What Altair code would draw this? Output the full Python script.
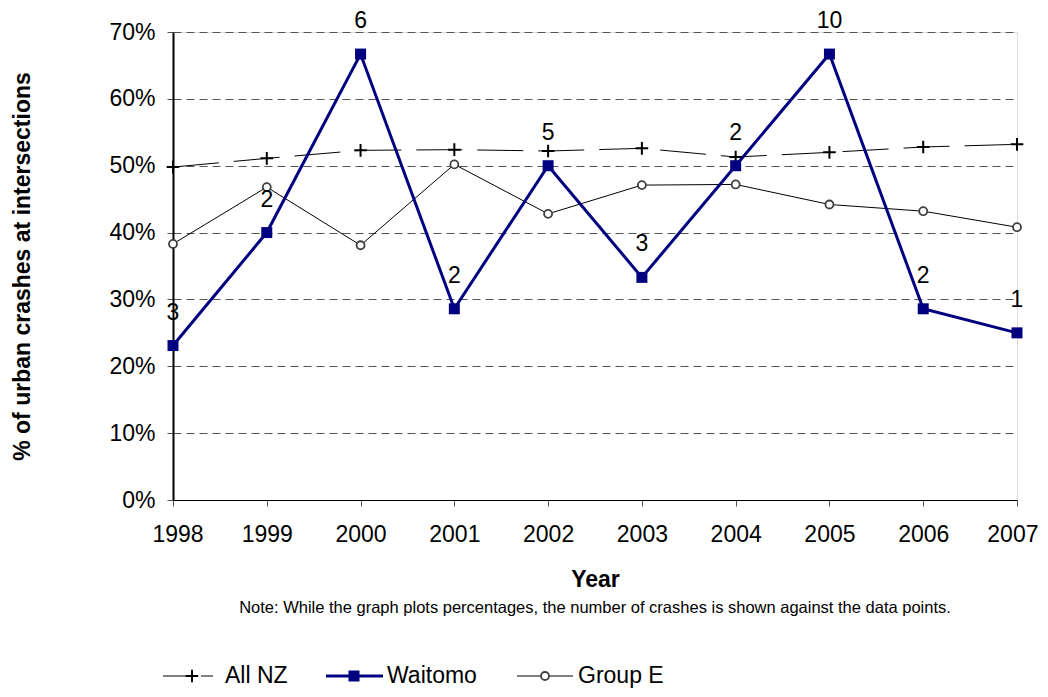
import altair as alt
import pandas as pd

years = [1998, 1999, 2000, 2001, 2002, 2003, 2004, 2005, 2006, 2007]
waitomo_pct = [23.1, 40.0, 66.7, 28.6, 50.0, 33.3, 50.0, 66.7, 28.6, 25.0]
waitomo_n = [3, 2, 6, 2, 5, 3, 2, 10, 2, 1]
all_nz_pct = [49.8, 51.1, 52.3, 52.4, 52.2, 52.6, 51.3, 52.0, 52.8, 53.2]
group_e_pct = [38.3, 46.8, 38.1, 50.2, 42.8, 47.1, 47.2, 44.2, 43.2, 40.8]
series_names = ["All NZ", "Waitomo", "Group E"]
y_ticks = [0, 10, 20, 30, 40, 50, 60, 70]
note_text = "Note: While the graph plots percentages, the number of crashes is shown against the data points."

FONT = "Liberation Sans"
FS = 23
NAVY = "#000080"
PLUS = "M-1,0L1,0M0,-1L0,1"

df_w = pd.DataFrame({"year": years, "pct": [v / 100 for v in waitomo_pct], "n": waitomo_n})
df_a = pd.DataFrame({"year": years, "pct": [v / 100 for v in all_nz_pct]})
df_g = pd.DataFrame({"year": years, "pct": [v / 100 for v in group_e_pct]})

x_enc = alt.X(
    "year:Q",
    scale=alt.Scale(domain=[years[0], years[-1]], nice=False, zero=False),
    axis=alt.Axis(
        values=years, format="d", title="Year", grid=False, labelFlush=True, labelFlushOffset=21,
        labelOverlap=False,
        labelFontSize=FS, labelFont=FONT, labelColor="black", labelPadding=17,
        titleFontSize=FS, titleFont=FONT, titleFontWeight="bold", titleColor="black",
        titlePadding=22, tickSize=6, tickColor="#555", domainColor="black", domainWidth=1,
    ),
)
y_enc = alt.Y(
    "pct:Q",
    scale=alt.Scale(domain=[0, 0.7], nice=False),
    axis=alt.Axis(
        values=[v / 100 for v in y_ticks], format=".0%", labelFlush=False,
        title="% of urban crashes at intersections",
        labelFontSize=FS, labelFont=FONT, labelColor="black", labelPadding=12,
        titleFontSize=FS, titleFont=FONT, titleFontWeight="bold", titleColor="black",
        titlePadding=74, tickSize=6, tickColor="#555", domainColor="black", domainWidth=2,
        grid=True, gridDash=[8, 5], gridColor="#555", gridWidth=1,
    ),
)

all_line = alt.Chart(df_a).mark_line(color="black", strokeWidth=1, strokeDash=[46, 15]).encode(x=x_enc, y=y_enc)
all_pts = alt.Chart(df_a).mark_point(shape=PLUS, size=160, filled=False, stroke="black", strokeWidth=2, opacity=1).encode(x="year:Q", y="pct:Q")

grp_line = alt.Chart(df_g).mark_line(color="black", strokeWidth=1).encode(x="year:Q", y="pct:Q")
grp_pts = alt.Chart(df_g).mark_point(shape="circle", size=64, filled=True, fill="white", stroke="#404040", strokeWidth=1.8, opacity=1).encode(x="year:Q", y="pct:Q")

w_line = alt.Chart(df_w).mark_line(color=NAVY, strokeWidth=3).encode(x="year:Q", y="pct:Q")
w_pts = alt.Chart(df_w).mark_point(shape="square", size=121, filled=True, color=NAVY, opacity=1).encode(x="year:Q", y="pct:Q")
w_lbl = alt.Chart(df_w).mark_text(fontSize=FS, font=FONT, color="black", dy=-33, baseline="middle").encode(x="year:Q", y="pct:Q", text="n:Q")

note = alt.Chart(pd.DataFrame({"t": [note_text]})).mark_text(
    fontSize=16.5, font=FONT, color="black", align="center", baseline="middle"
).encode(x=alt.value(422), y=alt.value(576), text="t:N")

# legend
LY = 644
leg = []
leg_df = pd.DataFrame({"name": series_names})
def lg(name):
    return alt.Chart(leg_df).transform_filter(alt.datum.name == name)

leg.append(lg("All NZ").mark_rule(color="black", strokeWidth=1, strokeDash=[30, 8]).encode(x=alt.value(-10), x2=alt.value(40), y=alt.value(LY)))
leg.append(lg("All NZ").mark_point(shape=PLUS, size=160, filled=False, stroke="black", strokeWidth=2, opacity=1).encode(x=alt.value(19), y=alt.value(LY)))
leg.append(lg("All NZ").mark_text(fontSize=FS, font=FONT, color="black", align="left", baseline="middle").encode(x=alt.value(52), y=alt.value(LY), text="name:N"))

leg.append(lg("Waitomo").mark_rule(color=NAVY, strokeWidth=3).encode(x=alt.value(153), x2=alt.value(210), y=alt.value(LY)))
leg.append(lg("Waitomo").mark_point(shape="square", size=121, filled=True, color=NAVY, opacity=1).encode(x=alt.value(181), y=alt.value(LY)))
leg.append(lg("Waitomo").mark_text(fontSize=FS, font=FONT, color="black", align="left", baseline="middle").encode(x=alt.value(214), y=alt.value(LY), text="name:N"))

leg.append(lg("Group E").mark_rule(color="black", strokeWidth=1).encode(x=alt.value(344), x2=alt.value(400), y=alt.value(LY)))
leg.append(lg("Group E").mark_point(shape="circle", size=64, filled=True, fill="white", stroke="#404040", strokeWidth=1.8, opacity=1).encode(x=alt.value(372), y=alt.value(LY)))
leg.append(lg("Group E").mark_text(fontSize=FS, font=FONT, color="black", align="left", baseline="middle").encode(x=alt.value(405), y=alt.value(LY), text="name:N"))

chart = alt.layer(
    all_line, grp_line, w_line, all_pts, grp_pts, w_pts, w_lbl, note, *leg
).properties(
    width=844, height=468,
    autosize=alt.AutoSizeParams(type="none"),
    padding={"left": 165, "top": 24, "right": 22, "bottom": 189},
).configure_view(
    stroke="black", strokeWidth=1
).configure(background="white")

chart.save("out.html", embed_options={"renderer": "svg", "actions": False})
